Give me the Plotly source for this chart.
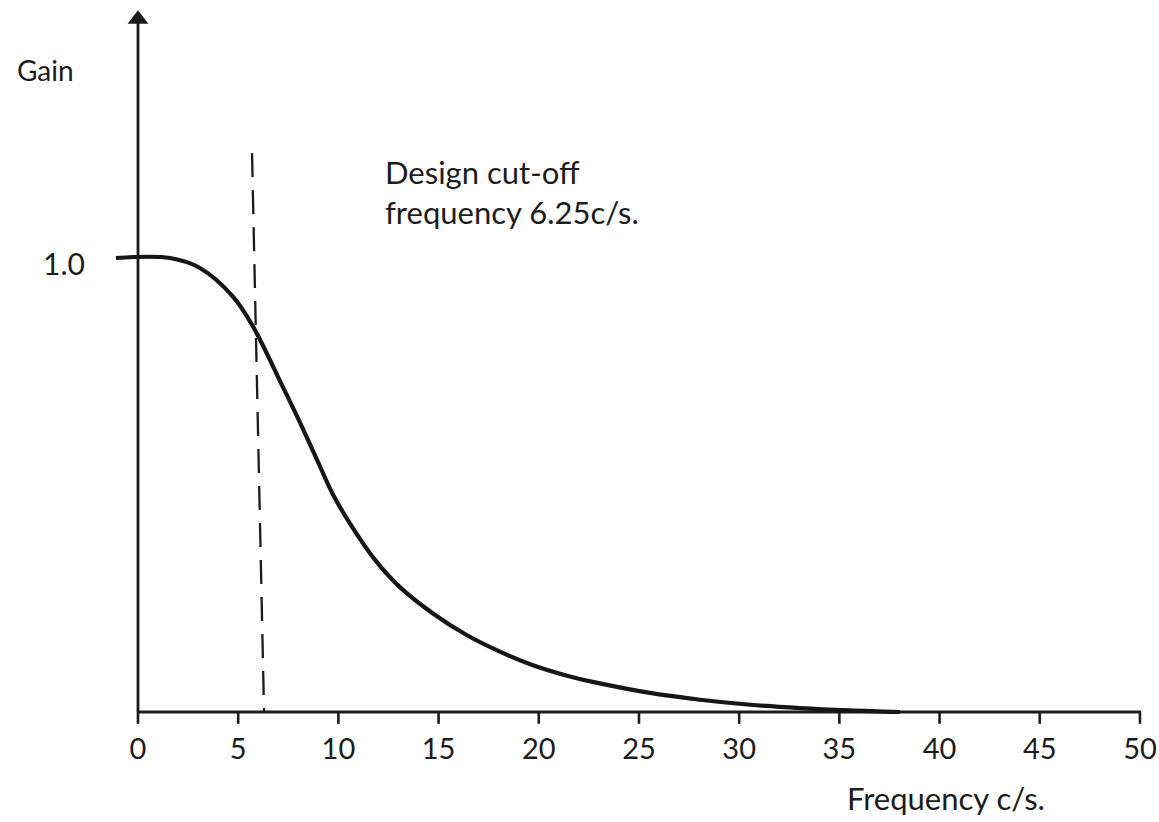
import plotly.graph_objects as go

# ---- data ----
freq = [-1.10, 1.60, 3.09, 4.74, 5.74, 7.24, 8.08, 8.93, 9.73, 10.58, 11.83, 13.07,
        14.72, 16.42, 18.06, 19.71, 21.41, 23.05, 25.55, 28.04, 30.54, 33.03, 35.53, 38.02]
gain = [1.0, 1.0, 0.978, 0.915, 0.849, 0.715, 0.638, 0.556, 0.479, 0.415, 0.335, 0.275,
        0.217, 0.169, 0.133, 0.103, 0.080, 0.063, 0.042, 0.027, 0.016, 0.0087, 0.0036, 0.0]
tick_vals = [0, 5, 10, 15, 20, 25, 30, 35, 40, 45, 50]
tick_text = ["0", "5", "10", "15", "20", "25", "30", "35", "40", "45", "50"]
cutoff_x = [5.69, 6.29]
cutoff_y = [1.231, 0.0]
x_axis_end = 50.05
y_axis_top = 1.52
arrow_tip = 1.526

FONT = "Lato"
INK = "#1c1c1c"

fig = go.Figure()

# axes lines
fig.add_trace(go.Scatter(x=[0, x_axis_end], y=[0, 0], mode="lines",
                         line=dict(color=INK, width=2.8), hoverinfo="skip"))
fig.add_trace(go.Scatter(x=[0, 0], y=[0, y_axis_top], mode="lines",
                         line=dict(color=INK, width=2.8), hoverinfo="skip"))
fig.add_trace(go.Scatter(x=[0], y=[arrow_tip], mode="markers",
                         marker=dict(symbol="triangle-up", size=18, color=INK),
                         hoverinfo="skip"))

# tick marks
tx, ty = [], []
for v in tick_vals:
    tx += [v, v, None]
    ty += [0, -0.026, None]
fig.add_trace(go.Scatter(x=tx, y=ty, mode="lines",
                         line=dict(color=INK, width=2.6), hoverinfo="skip"))

# tick labels
fig.add_trace(go.Scatter(x=tick_vals, y=[-0.088] * len(tick_vals), mode="text",
                         text=tick_text, textposition="middle center",
                         textfont=dict(family=FONT, size=29, color=INK),
                         hoverinfo="skip"))

# cut-off dashed line
fig.add_trace(go.Scatter(x=cutoff_x, y=cutoff_y, mode="lines",
                         line=dict(color=INK, width=2.3, dash="24px,13px"),
                         hoverinfo="skip"))

# gain curve
fig.add_trace(go.Scatter(x=freq, y=gain, mode="lines",
                         line=dict(color="#161616", width=4.2, shape="spline", smoothing=1.0),
                         hoverinfo="skip"))

annos = [
    dict(x=-4.64, y=1.415, text="Gain", xanchor="center", yanchor="middle",
         font=dict(family=FONT, size=28, color=INK)),
    dict(x=-3.69, y=0.99, text="1.0", xanchor="center", yanchor="middle",
         font=dict(family=FONT, size=30, color=INK)),
    dict(x=12.23, y=1.145, text="Design cut-off<br>frequency 6.25c/s.", xanchor="left",
         yanchor="middle", align="left",
         font=dict(family=FONT, size=31, color=INK)),
    dict(x=35.3, y=-0.19, text="Frequency c/s.", xanchor="left", yanchor="middle",
         font=dict(family=FONT, size=31, color=INK)),
]
for a in annos:
    a.update(xref="x", yref="y", showarrow=False)

fig.update_layout(
    width=1159, height=822,
    margin=dict(l=0, r=0, t=0, b=0),
    paper_bgcolor="white", plot_bgcolor="white",
    showlegend=False,
    hovermode=False,
    annotations=annos,
    xaxis=dict(visible=False, range=[-6.886, 50.95], fixedrange=True),
    yaxis=dict(visible=False, range=[-0.2423, 1.5683], fixedrange=True),
)

fig.write_html("out.html",
               config={"displayModeBar": False, "staticPlot": True},
               post_script="document.body.style.margin='0px';document.body.style.overflow='hidden';")
